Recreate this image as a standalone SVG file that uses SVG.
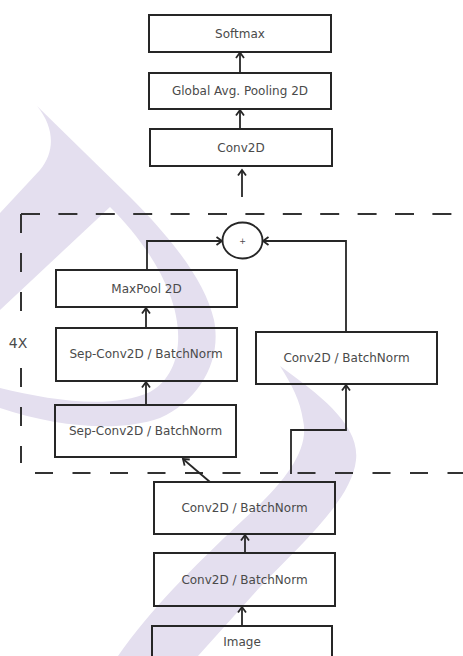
<svg xmlns="http://www.w3.org/2000/svg" width="463" height="656" viewBox="0 0 463 656">
  <style>
    .box { fill: none; stroke: #262626; stroke-width: 2; }
    .lbl { font-family: "DejaVu Sans", "Liberation Sans", sans-serif; font-size: 12px; fill: #4a4a4a; text-anchor: middle; }
    .edge { fill: none; stroke: #262626; stroke-width: 1.8; }
    .dash { fill: none; stroke: #333; stroke-width: 2; }
    .mark { fill: #e4dfef; stroke: none; }
  </style>
  <defs>
    <marker id="arr" markerUnits="userSpaceOnUse" markerWidth="14" markerHeight="14" refX="0" refY="0" viewBox="-8 -7 10 14" orient="auto">
      <path d="M-5.5,-4 L0,0 L-5.5,4" fill="none" stroke="#262626" stroke-width="1.8"/>
    </marker>
  </defs>
  <rect width="463" height="656" fill="#ffffff"/>

  <!-- background lettermark -->
  <g id="backdrop">
    <path class="mark" d="M37,106 L130,197 C170,237 205,280 214,320 C222,360 200,400 160,418 C120,432 60,428 0,408 L0,388 C50,400 110,410 150,392 C180,375 185,335 170,295 C158,262 135,232 110,207 L0,310 L0,213 L40,170 C55,152 55,128 37,106 Z"/>
    <path class="mark" d="M280,366 C320,395 360,425 356,460 C352,500 300,545 260,587 L198,656 L118,656 C150,610 190,570 243,520 C285,482 310,450 303,420 C300,400 292,385 280,366 Z"/>
  </g>

  <!-- repeated block frame -->
  <g id="repeat-frame">
    <path class="dash" d="M21,214 H463" stroke-dasharray="19 18.4"/>
    <path class="dash" d="M21,214 V311" stroke-dasharray="19 20"/>
    <path class="dash" d="M21,368 V463" stroke-dasharray="19 20"/>
    <path class="dash" d="M35,473 H463" stroke-dasharray="18 19.5"/>
    <text x="18" y="348" class="lbl" style="font-size:14px">4X</text>
  </g>

  <g id="softmax">
    <rect class="box" x="149" y="15" width="182" height="37"/>
    <text class="lbl" x="240" y="38">Softmax</text>
  </g>
  <g id="global-avg-pool">
    <rect class="box" x="149" y="73" width="182" height="36"/>
    <text class="lbl" x="240" y="95">Global Avg. Pooling 2D</text>
  </g>
  <g id="conv2d-head">
    <rect class="box" x="150" y="129" width="182" height="37"/>
    <text class="lbl" x="241" y="151.5">Conv2D</text>
  </g>
  <g id="add">
    <ellipse cx="242.5" cy="240.5" rx="20" ry="18" fill="none" stroke="#262626" stroke-width="1.8"/>
    <text class="lbl" x="242.5" y="244" style="font-size:8px">+</text>
  </g>
  <g id="maxpool">
    <rect class="box" x="56" y="270" width="181" height="37"/>
    <text class="lbl" x="146.5" y="292.5">MaxPool 2D</text>
  </g>
  <g id="sepconv-2">
    <rect class="box" x="56" y="328" width="181" height="53"/>
    <text class="lbl" x="146" y="358">Sep-Conv2D / BatchNorm</text>
  </g>
  <g id="sepconv-1">
    <rect class="box" x="55" y="405" width="181" height="52"/>
    <text class="lbl" x="145.5" y="435">Sep-Conv2D / BatchNorm</text>
  </g>
  <g id="shortcut-conv">
    <rect class="box" x="256" y="332" width="181" height="52"/>
    <text class="lbl" x="346.5" y="362">Conv2D / BatchNorm</text>
  </g>
  <g id="stem-conv-2">
    <rect class="box" x="154" y="482" width="181" height="52"/>
    <text class="lbl" x="244.5" y="512">Conv2D / BatchNorm</text>
  </g>
  <g id="stem-conv-1">
    <rect class="box" x="154" y="553" width="181" height="53"/>
    <text class="lbl" x="244.5" y="583.5">Conv2D / BatchNorm</text>
  </g>
  <g id="image">
    <rect class="box" x="152" y="626" width="180" height="40"/>
    <text class="lbl" x="242" y="646">Image</text>
  </g>

  <g id="connectors">
    <path class="edge" d="M240,73 V52.5" marker-end="url(#arr)"/>
    <path class="edge" d="M240,129 V110" marker-end="url(#arr)"/>
    <path class="edge" d="M242,197 V170" marker-end="url(#arr)"/>
    <path class="edge" d="M147,270 V241 H222" marker-end="url(#arr)"/>
    <path class="edge" d="M346,332 V241 H263" marker-end="url(#arr)"/>
    <path class="edge" d="M146,328 V308" marker-end="url(#arr)"/>
    <path class="edge" d="M146,405 V382" marker-end="url(#arr)"/>
    <path class="edge" d="M210,482 L183,459" marker-end="url(#arr)"/>
    <path class="edge" d="M291,474 V430 H346 V385" marker-end="url(#arr)"/>
    <path class="edge" d="M245,553 V535" marker-end="url(#arr)"/>
    <path class="edge" d="M242,626 V607" marker-end="url(#arr)"/>
  </g>
</svg>
